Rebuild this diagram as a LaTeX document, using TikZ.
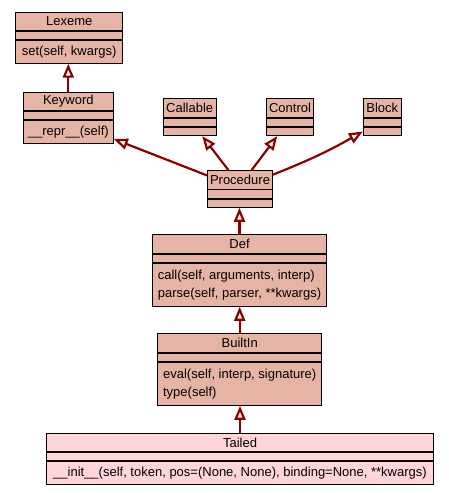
\documentclass[tikz,border=0pt]{standalone}
\usepackage{fontspec}
\setmainfont{Liberation Sans}
\usetikzlibrary{positioning, arrows.meta, calc}

\definecolor{clsfill}{HTML}{E6B4A5}
\definecolor{tailfill}{HTML}{FFD5DA}
\definecolor{edgered}{HTML}{8B0000}
\newcommand{\umlfont}{\fontsize{13}{18.3}\selectfont}

\tikzset{
  % Class name row
  cname/.style={
    draw, fill=clsfill, line width=0.9pt, minimum height=18.5pt,
    inner sep=0pt, font=\umlfont
  },
  % Attribute row (empty in every class here)
  cattr/.style={
    draw, fill=clsfill, line width=0.9pt, minimum height=8.3pt,
    inner sep=0pt
  },
  % Methods row
  cbody/.style={
    draw, fill=clsfill, line width=0.9pt, minimum height=22.5pt,
    inner xsep=0pt, inner ysep=2pt, align=left, font=\umlfont
  },
  % Arrow: inheritance (solid, hollow triangle at parent end)
  inherit/.style={
    draw=edgered, line width=2.2pt,
    -{Triangle[open, length=14pt, width=11pt]}
  }
}

\begin{document}
\begin{tikzpicture}[x=1pt, y=1pt, node distance=0cm and 0cm]
\useasboundingbox (0,0) rectangle (449,-493);

% ============================================================
% TOP ROW -- Lexeme
% ============================================================
\node[cname, anchor=north, minimum width=107pt] (lexeme-name) at (69.2,-11.7) {Lexeme};
\node[cattr, below=0 of lexeme-name, minimum width=107pt] (lexeme-attr) {};
\node[cbody, below=0 of lexeme-attr, minimum width=107pt] (lexeme-body) {set(self, kwargs)};

% ============================================================
% SECOND ROW -- Keyword, Callable, Control, Block
% ============================================================

% Keyword
\node[cname, anchor=north, minimum width=90pt] (keyword-name) at (68.3,-91.7) {Keyword};
\node[cattr, below=0 of keyword-name, minimum width=90pt] (keyword-attr) {};
\node[cbody, below=0 of keyword-attr, minimum width=90pt] (keyword-body) {\_\_repr\_\_(self)};

% Callable
\node[cname, anchor=north, minimum width=52.7pt] (callable-name) at (189.7,-98.3) {Callable};
\node[cattr, below=0 of callable-name, minimum width=52.7pt] (callable-attr) {};
\node[cattr, below=0 of callable-attr, minimum width=52.7pt] (callable-body) {};

% Control
\node[cname, anchor=north, minimum width=46.7pt] (control-name) at (290,-98.3) {Control};
\node[cattr, below=0 of control-name, minimum width=46.7pt] (control-attr) {};
\node[cattr, below=0 of control-attr, minimum width=46.7pt] (control-body) {};

% Block
\node[cname, anchor=north, minimum width=38pt] (block-name) at (382.3,-98.3) {Block};
\node[cattr, below=0 of block-name, minimum width=38pt] (block-attr) {};
\node[cattr, below=0 of block-attr, minimum width=38pt] (block-body) {};

% ============================================================
% CENTRE COLUMN -- Procedure, Def, BuiltIn
% ============================================================
\node[cname, anchor=north, minimum width=64.7pt] (proc-name) at (240,-170) {Procedure};
\node[cattr, below=0 of proc-name, minimum width=64.7pt] (proc-attr) {};
\node[cattr, below=0 of proc-attr, minimum width=64.7pt] (proc-body) {};

\node[cname, anchor=north, minimum width=174.3pt] (def-name) at (239.5,-234.3) {Def};
\node[cattr, below=0 of def-name, minimum width=174.3pt] (def-attr) {};
\node[cbody, below=0 of def-attr, minimum width=174.3pt, minimum height=43pt] (def-body) {
  call(self, arguments, interp)\\
  parse(self, parser, **kwargs)};

\node[cname, anchor=north, minimum width=164pt] (builtin-name) at (239.7,-333.3) {BuiltIn};
\node[cattr, below=0 of builtin-name, minimum width=164pt] (builtin-attr) {};
\node[cbody, below=0 of builtin-attr, minimum width=164pt, minimum height=43pt] (builtin-body) {
  eval(self, interp, signature)\\
  type(self)};

% ============================================================
% BOTTOM -- Tailed (lighter fill)
% ============================================================
\node[cname, anchor=north, fill=tailfill, minimum width=386.7pt] (tailed-name) at (240,-432.7) {Tailed};
\node[cattr, below=0 of tailed-name, fill=tailfill, minimum width=386.7pt] (tailed-attr) {};
\node[cbody, below=0 of tailed-attr, fill=tailfill, minimum width=386.7pt] (tailed-body) {
  \_\_init\_\_(self, token, pos=(None, None), binding=None, **kwargs)};

% ============================================================
% ARROWS
% ============================================================

% -- Keyword --inherits--> Lexeme --
\draw[inherit] (keyword-name.north) -- (keyword-name.north |- lexeme-body.south);

% -- Procedure --inherits--> four parents --
\draw[inherit] ([yshift=4.2pt]proc-name.west)  -- ([yshift=-7pt]keyword-body.east);
\draw[inherit] ([xshift=-11.7pt]proc-name.north) -- ([xshift=12.6pt]callable-body.south);
\draw[inherit] ([xshift=11.7pt]proc-name.north)  -- ([xshift=-12.7pt]control-body.south);
\draw[inherit] ([yshift=5pt]proc-name.east) to[bend right=4] (block-body.west);

% -- centre column, straight up --
\draw[inherit] (def-name.north)     -- (def-name.north |- proc-body.south);
\draw[inherit] (builtin-name.north) -- (builtin-name.north |- def-body.south);
\draw[inherit] (tailed-name.north)  -- (tailed-name.north |- builtin-body.south);

\end{tikzpicture}
\end{document}
